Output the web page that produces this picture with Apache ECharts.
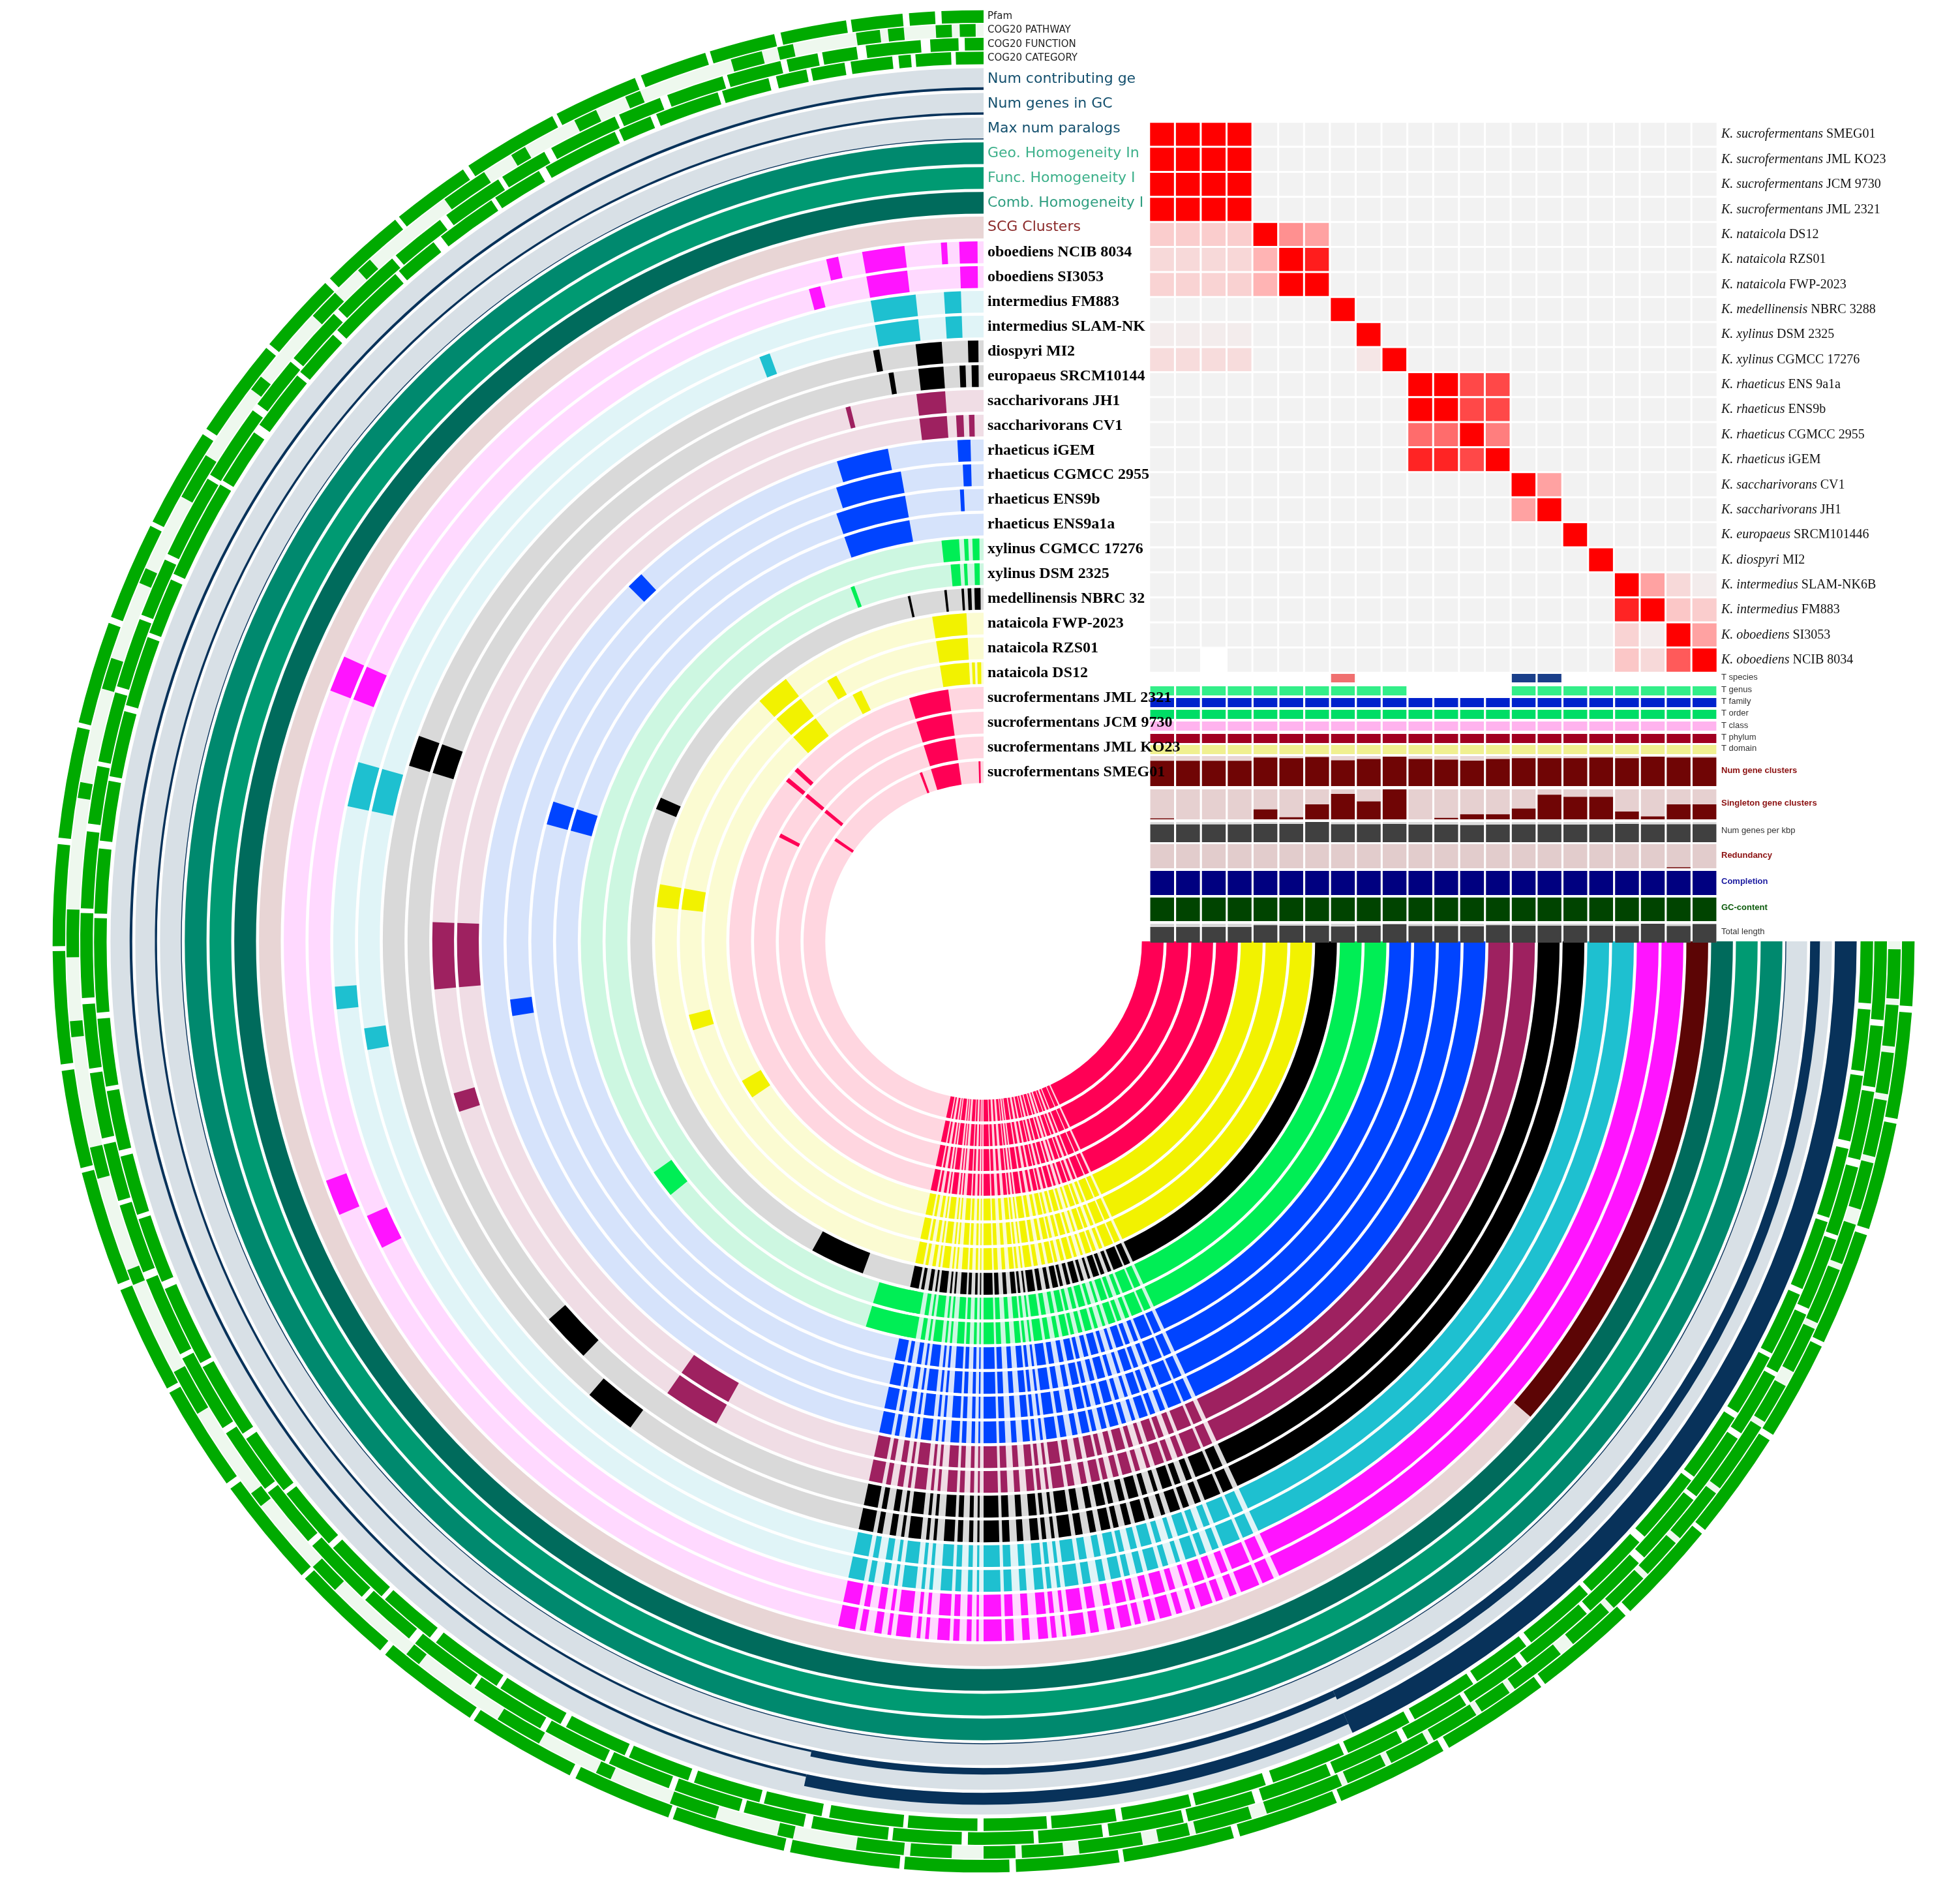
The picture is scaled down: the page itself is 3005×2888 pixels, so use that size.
<!DOCTYPE html>
<html>
<head>
<meta charset="utf-8" />
<title>Komagataeibacter pangenome</title>
<script src="https://cdn.jsdelivr.net/npm/echarts/dist/echarts.min.js"></script>
<style>
  html, body { margin: 0; padding: 0; background: #fff; }
  #chart { width: 3005px; height: 2888px; }
</style>
</head>
<body>
<div id="chart"></div>
<script>
// ---- data ----
const ringSpecies = ['sucrofermentans','sucrofermentans','sucrofermentans','sucrofermentans','nataicola','nataicola','nataicola','medellinensis','xylinus','xylinus','rhaeticus','rhaeticus','rhaeticus','rhaeticus','saccharivorans','saccharivorans','europaeus','diospyri','intermedius','intermedius','oboediens','oboediens'];
const ringStrain = ['SMEG01','JML KO23','JCM 9730','JML 2321','DS12','RZS01','FWP-2023','NBRC 3288','DSM 2325','CGMCC 17276','ENS9a1a','ENS9b','CGMCC 2955','iGEM','CV1','JH1','SRCM101446','MI2','SLAM-NK6B','FM883','SI3053','NCIB 8034'];
const heatStrain = ['SMEG01','JML KO23','JCM 9730','JML 2321','DS12','RZS01','FWP-2023','NBRC 3288','DSM 2325','CGMCC 17276','ENS 9a1a','ENS9b','CGMCC 2955','iGEM','CV1','JH1','SRCM101446','MI2','SLAM-NK6B','FM883','SI3053','NCIB 8034'];
const ringDark  = ['#ff0055','#ff0055','#ff0055','#ff0055','#f2f200','#f2f200','#f2f200','#000000','#00ee55','#00ee55','#0044ff','#0044ff','#0044ff','#0044ff','#9e2160','#9e2160','#000000','#000000','#1ec0d0','#1ec0d0','#ff14ff','#ff14ff'];
const ringLight = ['#ffd6e0','#ffd6e0','#ffd6e0','#ffd6e0','#fbfbd2','#fbfbd2','#fbfbd2','#d9d9d9','#cdf7e1','#cdf7e1','#d6e3fb','#d6e3fb','#d6e3fb','#d6e3fb','#f0dde5','#f0dde5','#d9d9d9','#d9d9d9','#e0f4f7','#e0f4f7','#ffd9ff','#ffd9ff'];

// position along the sweep: 0 = top, 270 = right, counter-clockwise
const coreRange = [205, 270];
const sharedStripes = [[168,169.4],[169.8,170.3],[171,171.6],[172.1,172.4],[172.8,174],[174.5,174.8],[175.2,175.5],[176.2,177.2],[177.5,178],[178.6,179],[179.4,179.6],[180,181.5],[181.8,182.5],[183.2,183.8],[184.5,185.3],[185.6,186],[186.5,186.8],[187.2,188.4],[188.8,189.5],[190.2,190.8],[191.3,192.2],[192.5,193],[193.6,194.2],[194.6,195.6],[196,196.5],[197.2,197.6],[198.1,199.1],[199.4,200],[200.6,201.2],[201.6,203.2],[203.5,204.5]];
const genomeBlocks = [
  [[1,1.6],[8,17],[20,20.8],[55,56]],
  [[8,17],[50,51]],
  [[8,17],[50,51],[62,63]],
  [[8,17],[47,48],[50,51]],
  [[0.5,1.3],[1.8,2.4],[3,9],[26,28],[37,43],[120,124]],
  [[3,9],[29,31],[37,43],[80,84],[104,107]],
  [[3,9],[37,43],[80,84]],
  [[0.5,1.5],[2,2.6],[3.2,3.6],[6,6.4],[12,12.4],[66,68],[151,160]],
  [[0.6,1.4],[2.5,3],[3.6,5],[20,20.6],[163,170]],
  [[0.6,1.6],[2.2,2.8],[3.5,6],[125,129],[163,170]],
  [[10,19],[72,75]],
  [[2.5,3],[10,19],[72,75]],
  [[1.5,2.5],[10,18],[97,99]],
  [[1.5,3],[11,17],[43,45]],
  [[1,1.6],[2.2,3],[4,7],[88,95],[145,151]],
  [[4,7],[14,14.5],[88,95],[106,108],[145,151]],
  [[0.5,1.2],[1.8,2.4],[4,6.5],[9,9.5],[70,73],[131,136]],
  [[0.5,1.5],[4,6.5],[10,10.6],[70,73],[139,144]],
  [[2,3.5],[6,10],[20,21],[74,78],[98,100]],
  [[2,3.5],[6,10],[74,78],[94,96]],
  [[0.5,2],[6.5,10],[14,15],[66,69],[114,117]],
  [[0.5,2],[3,3.5],[6.5,10],[12,13],[66,69],[110,113]]
];
const scgBlocks = [[229,270]];
const homogeneityNames = ['Comb. Homogeneity Index','Func. Homogeneity Index','Geo. Homogeneity Index'];
const homogeneityColors = ['#006b5c','#009a72','#00896e'];
const numGenesBars = [[0,168,0.1],[168,205,0.3],[205,270,0.45]];
const numContribBars = [[0,168,0.12],[168,205,0.55],[205,270,1]];
const maxParalogBars = [[0,270,0.04]];
const cogCategory = [[0,1.8],[2.1,4.4],[4.7,5.5],[5.9,8.6],[9,11.2],[11.5,13.5],[14,17.1],[17.4,21.6],[22,24.2],[24.5,29.5],[30,33.3],[33.6,37.6],[38.2,41.1],[41.4,46.6],[47,50.2],[50.5,54.5],[55.1,58.8],[59.1,65.6],[66,69.7],[70,74.6],[75,79.3],[79.6,83.5],[84,88.2],[88.5,94.6],[95,99.4],[99.7,103.6],[104,107.9],[108.2,112.5],[113,118.3],[118.6,123.6],[124,128.1],[128.4,132.6],[133,137.4],[137.7,141.5],[142,146.8],[147.1,151.6],[152,156.2],[156.5,160.6],[161,165.4],[165.7,169.5],[170,174.8],[175.1,179.6],[180,184.1],[184.4,188.6],[189,193.5],[193.8,198.5],[199,203.9],[204.2,208.6],[209,213.4],[213.7,217.6],[218,222.8],[223.1,227.5],[228,232.7],[233,237.6],[238,242.1],[242.4,246.6],[247,251.6],[251.9,256.5],[257,261.3],[261.6,265.6],[266,270]];
const cogFunction = [[0,1.2],[1.6,3.4],[4,7.5],[8.1,10.3],[10.6,12.6],[13,16.5],[16.8,20.5],[21,23.8],[24.1,28.6],[29.1,32.2],[32.5,36.5],[37,40.6],[40.9,45.6],[46,49.8],[50.1,53.5],[54,58.9],[59.2,64.6],[65,68.8],[69.1,73.6],[74,78.5],[78.8,82.5],[83,87.9],[88.2,93.6],[94,98.1],[98.4,102.6],[103,106.7],[107,111.5],[112,117.2],[117.5,122.6],[123,127.3],[127.6,131.6],[132,136.5],[136.8,140.5],[141,145.4],[145.7,150.6],[151,155.2],[155.5,159.6],[160,164.3],[164.6,168.5],[169,173.9],[174.2,178.6],[179,183.2],[183.5,187.6],[188,192.8],[193.1,197.5],[198,202.6],[202.9,207.6],[208,212.3],[212.6,216.6],[217,221.9],[222.2,226.5],[227,231.8],[232.1,236.6],[237,241.2],[241.5,245.6],[246,250.7],[251,255.5],[256,260.4],[260.7,264.6],[265,270]];
const cogPathway = [[0.5,1.5],[2,3],[5,6],[6.5,8],[12,13],[14,16],[22,23],[25,26.5],[30,31],[33,36],[42,43],[45,47],[52,53],[58,61],[66,67],[72,74],[80,81],[88,91],[95,96],[103,105],[111,112],[118,121],[127,128],[133,135],[141,142],[148,151],[155,156],[160,163],[167,168],[172,175],[175.4,178],[180,182],[182.4,185],[186,190],[191,193],[193.4,197],[198,203],[203.4,206],[206.4,209],[209.4,212.5],[212.9,215],[215.4,219],[220,223],[223.4,226],[226.4,229],[229.4,233],[233.4,238],[238.4,241],[242,245],[245.4,249],[249.4,252],[253,256],[256.4,260],[260.4,263],[263.4,266],[266.4,269.5]];
const pfam = [[0,2.6],[3,4.6],[5,8.2],[8.5,12.6],[13,17.1],[17.4,21.6],[22,27.3],[27.6,33.6],[34,38.9],[39.2,44.6],[45,50.1],[50.4,56.6],[57,63.2],[63.5,69.6],[70,76.4],[76.7,83.6],[84,90.3],[90.6,97.6],[98,104.1],[104.4,111.6],[112,118.7],[119,125.6],[126,132.9],[133.2,139.6],[140,146.5],[146.8,153.6],[154,160.2],[160.5,167.6],[168,174.8],[175.1,181.6],[182,188.4],[188.7,195.6],[196,202.3],[202.6,209.6],[210,216.8],[217.1,223.6],[224,230.5],[230.8,237.6],[238,244.2],[244.5,251.6],[252,258.7],[259,265.6],[266,270]];

// ANI heatmap rows (top to bottom), columns in the same genome order
const aniMatrix = [
  [1,1,1,1,0,0,0,0,0,0,0,0,0,0,0,0,0,0,0,0,0,0],
  [1,1,1,1,0,0,0,0,0,0,0,0,0,0,0,0,0,0,0,0,0,0],
  [1,1,1,1,0,0,0,0,0,0,0,0,0,0,0,0,0,0,0,0,0,0],
  [1,1,1,1,0,0,0,0,0,0,0,0,0,0,0,0,0,0,0,0,0,0],
  [0.3,0.3,0.3,0.3,1,0.6,0.55,0,0,0,0,0,0,0,0,0,0,0,0,0,0,0],
  [0.2,0.2,0.2,0.22,0.5,1,0.92,0,0,0,0,0,0,0,0,0,0,0,0,0,0,0],
  [0.25,0.25,0.25,0.27,0.5,1,1,0,0,0,0,0,0,0,0,0,0,0,0,0,0,0],
  [0,0,0,0,0,0,0,1,0,0,0,0,0,0,0,0,0,0,0,0,0,0],
  [0.05,0.05,0.05,0.05,0,0,0,0,1,0,0,0,0,0,0,0,0,0,0,0,0,0],
  [0.18,0.18,0.18,0.18,0,0,0,0,0.1,1,0,0,0,0,0,0,0,0,0,0,0,0],
  [0,0,0,0,0,0,0,0,0,0,1,1,0.8,0.8,0,0,0,0,0,0,0,0],
  [0,0,0,0,0,0,0,0,0,0,1,1,0.8,0.8,0,0,0,0,0,0,0,0],
  [0,0,0,0,0,0,0,0,0,0,0.7,0.7,1,0.65,0,0,0,0,0,0,0,0],
  [0,0,0,0,0,0,0,0,0,0,0.9,0.9,0.8,1,0,0,0,0,0,0,0,0],
  [0,0,0,0,0,0,0,0,0,0,0,0,0,0,1,0.55,0,0,0,0,0,0],
  [0,0,0,0,0,0,0,0,0,0,0,0,0,0,0.55,1,0,0,0,0,0,0],
  [0,0,0,0,0,0,0,0,0,0,0,0,0,0,0,0,1,0,0,0,0,0],
  [0,0,0,0,0,0,0,0,0,0,0,0,0,0,0,0,0,1,0,0,0,0],
  [0,0,0,0,0,0,0,0,0,0,0,0,0,0,0,0,0,0,1,0.55,0.2,0.05],
  [0,0,0,0,0,0,0,0,0,0,0,0,0,0,0,0,0,0,0.9,1,0.35,0.3],
  [0,0,0,0,0,0,0,0,0,0,0,0,0,0,0,0,0,0,0.25,0.05,1,0.55],
  [0,0,null,0,0,0,0,0,0,0,0,0,0,0,0,0,0,0,0.35,0.2,0.75,1]
];

// per-genome layers (same column order)
const tSpecies = [null,null,null,null,null,null,null,1,null,null,null,null,null,null,1,1,null,null,null,null,null,null];
const tSpeciesColors = ['','','','','','','','#f07070','','','','','','','#1a3f8a','#1a3f8a','','','','','',''];
const tGenus = [1,1,1,1,1,1,1,1,1,1,null,null,null,null,1,1,1,1,1,1,1,1];
const numGeneClusters = [0.84,0.84,0.84,0.84,0.95,0.93,0.97,0.86,0.9,0.98,0.9,0.88,0.85,0.9,0.93,0.93,0.93,0.95,0.93,0.98,0.95,0.95];
const singletonClusters = [0.03,0,0,0,0.33,0.07,0.5,0.85,0.6,1,0,0.05,0.17,0.17,0.36,0.82,0.75,0.75,0.26,0.1,0.5,0.5];
const genesPerKbp = [0.88,0.88,0.88,0.88,0.9,0.9,1,0.89,0.89,0.9,0.87,0.87,0.85,0.87,0.88,0.88,0.87,0.88,0.9,0.88,0.89,0.89];
const redundancy = [0,0,0,0,0,0,0,0,0,0,0,0,0,0,0,0,0,0,0,0,0.04,0];
const completion = [1,1,1,1,1,1,1,1,1,1,1,1,1,1,1,1,1,1,1,1,1,1];
const gcContent = [0.97,0.97,0.97,0.97,0.97,0.97,0.97,0.97,0.97,0.97,0.97,0.97,0.97,0.97,0.97,0.97,0.97,0.97,0.97,0.97,0.97,0.97];
const totalLength = [0.83,0.83,0.83,0.83,0.92,0.9,0.9,0.85,0.9,0.97,0.88,0.88,0.86,0.92,0.9,0.9,0.9,0.9,0.88,1,0.88,0.98];

// ---- layout ----
const S = 1.926;
const px = v => Math.round(v * S);
const chart = echarts.init(document.getElementById('chart'));

const arcs = [];
function pushArc(r0, r1, p0, p1, color) {
  arcs.push({ value: [r0, r1, p0, p1], itemStyle: { color: color } });
}
const ringLabels = [];
const RING0 = 126, STEP = 19.7, W = 17.3;
for (let i = 0; i < 22; i++) {
  const r0 = RING0 + STEP * i, r1 = r0 + W;
  pushArc(r0, r1, 0, 270, ringLight[i]);
  genomeBlocks[i].concat(sharedStripes, [coreRange]).forEach(b => pushArc(r0, r1, b[0], b[1], ringDark[i]));
  ringLabels.push({ r: (r0 + r1) / 2, text: ringSpecies[i] + ' ' + ringStrain[i], color: '#000',
    font: 'bold ' + px(12.5) + 'px "Liberation Serif"', width: i <= 3 ? 500 : px(131) });
}
let r = RING0 + STEP * 22;
pushArc(r, r + W, 0, 270, '#e8d5d5');
scgBlocks.forEach(b => pushArc(r, r + W, b[0], b[1], '#5c0505'));
ringLabels.push({ r: r + W / 2, text: 'SCG Clusters', color: '#8b2a2a', font: px(11.5) + 'px "DejaVu Sans"', width: px(131) });
const homLabelColors = ['#2f9e80','#3cb08a','#3cb08a'];
for (let k = 0; k < 3; k++) {
  r = RING0 + STEP * (23 + k);
  pushArc(r, r + W, 0, 270, homogeneityColors[k]);
  ringLabels.push({ r: r + W / 2, text: homogeneityNames[k], color: homLabelColors[k], font: px(11.5) + 'px "DejaVu Sans"', width: px(131) });
}
const barRings = [[maxParalogBars, 'Max num paralogs'], [numGenesBars, 'Num genes in GC'], [numContribBars, 'Num contributing genomes']];
barRings.forEach((br, k) => {
  r = RING0 + STEP * (26 + k);
  pushArc(r, r + W, 0, 270, '#d8e0e6');
  br[0].forEach(b => pushArc(r, r + W * b[2], b[0], b[1], '#08325a'));
  ringLabels.push({ r: r + W / 2, text: br[1], color: '#14506e', font: px(11.5) + 'px "DejaVu Sans"', width: px(131) });
});
const cogRings = [[cogCategory, 'COG20 CATEGORY', '#ffffff'], [cogFunction, 'COG20 FUNCTION', '#ffffff'], [cogPathway, 'COG20 PATHWAY', '#eef8ee'], [pfam, 'Pfam', '#ffffff']];
cogRings.forEach((cr, k) => {
  const c0 = 698 + 11 * k;
  pushArc(c0, c0 + 10, 0, 270, cr[2]);
  cr[0].forEach(b => pushArc(c0, c0 + 10, b[0], b[1], '#00aa00'));
  ringLabels.push({ r: c0 + 5, text: cr[1], color: '#222', font: px(8) + 'px "DejaVu Sans"', width: px(131) });
});

function arcRender(params, api) {
  const cs = params.coordSys;
  const a = api.coord([api.value(1), api.value(2)]);
  const b = api.coord([api.value(1), api.value(3)]);
  const c = api.coord([api.value(0), api.value(2)]);
  const ro = Math.hypot(a[0] - cs.cx, a[1] - cs.cy);
  const ri = Math.hypot(c[0] - cs.cx, c[1] - cs.cy);
  const start = Math.atan2(b[1] - cs.cy, b[0] - cs.cx);
  let end = Math.atan2(a[1] - cs.cy, a[0] - cs.cx);
  while (end <= start) end += Math.PI * 2;
  return { type: 'sector', shape: { cx: cs.cx, cy: cs.cy, r0: ri, r: ro, startAngle: start, endAngle: end, clockwise: true },
    style: { fill: api.visual('color') } };
}
function labelRender(params, api) {
  const L = ringLabels[params.dataIndex];
  const pt = api.coord([api.value(0), 0]);
  return { type: 'text', x: pt[0] + 6, y: pt[1],
    style: { text: L.text, fill: L.color, font: L.font, verticalAlign: 'middle', width: L.width, overflow: 'truncate', ellipsis: '' } };
}

// heatmap
const HX = px(915), HY = px(97), HW = px(452), HH = px(438);
const heatData = [];
aniMatrix.forEach((row, y) => row.forEach((v, x) => { if (v !== null) heatData.push([x, y, v]); }));
const cols = ringStrain.map((s, i) => i);

const grids = [{ left: HX, top: HY, width: HW, height: HH }];
const xAxes = [{ type: 'category', data: cols, gridIndex: 0, show: false }];
const yAxes = [{ type: 'category', data: cols, gridIndex: 0, inverse: true, position: 'right',
  axisLine: { show: false }, axisTick: { show: false },
  axisLabel: { margin: 6, fontFamily: 'Liberation Serif', fontSize: px(10.5), color: '#111',
    formatter: v => '{i|K. ' + ringSpecies[v] + '} ' + heatStrain[v],
    rich: { i: { fontStyle: 'italic', fontFamily: 'Liberation Serif', fontSize: px(10.5), color: '#111' } } } }];
const series = [
  { type: 'custom', coordinateSystem: 'polar', renderItem: arcRender, data: arcs, silent: true, z: 1 },
  { type: 'heatmap', xAxisIndex: 0, yAxisIndex: 0, data: heatData, itemStyle: { borderColor: '#fff', borderWidth: 3 }, z: 3 },
  { type: 'custom', coordinateSystem: 'polar', renderItem: labelRender, data: ringLabels.map(L => [L.r, 0]), silent: true, z: 10 }
];

const layerRows = [
  { name: 'T species', top: 536.5, h: 7, data: tSpecies, colors: tSpeciesColors, bg: null },
  { name: 'T genus', top: 546, h: 7.5, data: tGenus, color: '#33ee88', bg: null },
  { name: 'T family', top: 555.5, h: 7.5, data: completion, color: '#0022cc', bg: null },
  { name: 'T order', top: 565, h: 7.5, data: completion, color: '#00dd66', bg: null },
  { name: 'T class', top: 574.5, h: 7.5, data: completion, color: '#ffb3ee', bg: null },
  { name: 'T phylum', top: 584, h: 7.5, data: completion, color: '#a00020', bg: null },
  { name: 'T domain', top: 593, h: 7.5, data: completion, color: '#f0f090', bg: null },
  { name: 'Num gene clusters', top: 602, h: 24, data: numGeneClusters, color: '#700505', bg: '#e8d5d5', label: '#8b1010', bold: true },
  { name: 'Singleton gene clusters', top: 628, h: 24, data: singletonClusters, color: '#700505', bg: '#e6d0d0', label: '#8b1010', bold: true },
  { name: 'Num genes per kbp', top: 654, h: 16, data: genesPerKbp, color: '#404040', bg: '#dcdcdc', label: '#333' },
  { name: 'Redundancy', top: 672, h: 19, data: redundancy, color: '#700505', bg: '#e2cccc', label: '#8b1010', bold: true },
  { name: 'Completion', top: 693, h: 19, data: completion, color: '#000080', bg: '#d8d8f0', label: '#1a1aa0', bold: true },
  { name: 'GC-content', top: 714, h: 19, data: gcContent, color: '#004400', bg: '#d0e6d0', label: '#0b5a0b', bold: true },
  { name: 'Total length', top: 735, h: 15, data: totalLength, color: '#404040', bg: '#d8d8d8', label: '#333' }
];
const graphics = [];
layerRows.forEach((row, k) => {
  const gi = k + 1;
  grids.push({ left: HX, top: px(row.top), width: HW, height: px(row.h) });
  xAxes.push({ type: 'category', data: cols, gridIndex: gi, show: false });
  yAxes.push({ type: 'value', min: 0, max: 1, gridIndex: gi, show: false });
  series.push({ type: 'bar', xAxisIndex: gi, yAxisIndex: gi, barCategoryGap: '8%', silent: true, z: 4,
    data: row.data.map((v, i) => ({ value: v, itemStyle: { color: row.colors ? row.colors[i] : row.color } })),
    showBackground: !!row.bg, backgroundStyle: { color: row.bg || 'transparent' } });
  graphics.push({ type: 'text', left: px(1370), top: px(row.top + row.h / 2) - px(4),
    style: { text: row.name, fill: row.label || '#333', font: (row.bold ? 'bold ' : '') + px(7) + 'px "Liberation Sans"' } });
});

chart.setOption({
  animation: false,
  backgroundColor: '#ffffff',
  polar: { center: [px(783), px(749)], radius: [0, px(746)] },
  angleAxis: { type: 'value', min: 0, max: 360, startAngle: 90, clockwise: false, show: false },
  radiusAxis: { type: 'value', min: 0, max: 746, show: false },
  grid: grids, xAxis: xAxes, yAxis: yAxes,
  visualMap: { show: false, seriesIndex: 1, min: 0, max: 1, inRange: { color: ['#f2f2f2', '#ffb4b4', '#ff0000'] } },
  graphic: graphics,
  series: series
});
</script>
</body>
</html>
